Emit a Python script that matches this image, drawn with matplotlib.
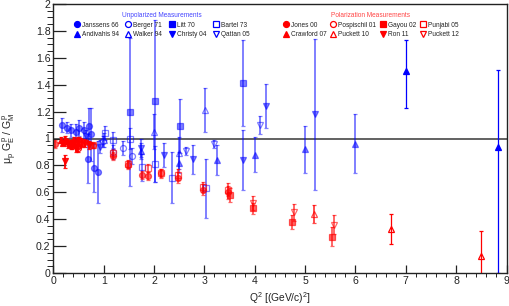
import matplotlib
matplotlib.use('Agg')
import matplotlib.pyplot as plt
from matplotlib.lines import Line2D
from matplotlib.ticker import MultipleLocator

plt.rcParams['font.family'] = ['Liberation Sans', 'DejaVu Sans']
plt.rcParams['mathtext.fontset'] = 'custom'
plt.rcParams['mathtext.rm'] = 'Liberation Sans'
plt.rcParams['mathtext.it'] = 'Liberation Sans'

# ---- unpolarized (Rosenbluth) data ----
janssens_q2 = [0.18, 0.28, 0.35, 0.45, 0.52, 0.60, 0.70, 0.75, 0.68, 0.80, 0.88]
janssens_r = [1.10, 1.08, 1.06, 1.05, 1.08, 1.06, 1.09, 1.03, 0.85, 0.78, 0.75]
janssens_err = [0.05, 0.04, 0.05, 0.06, 0.06, 0.06, 0.14, 0.20, 0.18, 0.18, 0.23]

berger_q2 = [0.99, 1.19, 1.38, 1.57]
berger_r = [0.98, 0.90, 0.93, 0.87]
berger_err = [0.04, 0.05, 0.05, 0.06]

litt_q2 = [1.52, 2.02, 2.52, 3.77]
litt_r = [1.20, 1.28, 1.09, 1.41]
litt_err = [0.55, 0.60, 0.20, 0.32]

bartel_q2 = [1.03, 1.19, 1.52, 1.76, 2.02, 2.35, 3.04]
bartel_r = [1.04, 0.99, 1.00, 0.785, 0.81, 0.71, 0.63]
bartel_err = [0.05, 0.06, 0.08, 0.10, 0.135, 0.19, 0.22]

andivahis_q2 = [1.75, 2.50, 3.25, 4.00, 5.00, 6.00, 7.00, 8.83]
andivahis_r = [0.91, 0.82, 0.84, 0.88, 0.92, 0.96, 1.50, 0.94]
andivahis_lo = [0.06, 0.08, 0.11, 0.13, 0.175, 0.22, 0.27, 0.94]
andivahis_hi = [0.06, 0.08, 0.11, 0.13, 0.175, 0.22, 0.23, 0.57]

walker_q2 = [1.00, 2.00, 2.50, 3.01]
walker_r = [0.99, 1.05, 0.89, 1.21]
walker_err = [0.05, 0.13, 0.12, 0.165]

christy_q2 = [0.65, 0.93, 1.75, 2.20, 2.77, 3.77, 4.22, 5.20]
christy_r = [1.02, 0.94, 0.93, 0.88, 0.845, 0.84, 1.24, 1.18]
christy_err = [0.04, 0.05, 0.07, 0.09, 0.11, 0.22, 0.165, 0.56]

qattan_q2 = [2.64, 3.20, 4.10]
qattan_r = [0.91, 0.96, 1.10]
qattan_err = [0.03, 0.03, 0.07]

# ---- polarization transfer data ----
jones_q2 = [0.04, 0.49, 0.79, 1.18, 1.48, 1.77, 1.88, 2.13, 2.47, 2.97, 3.47]
jones_r = [0.96, 0.99, 0.95, 0.87, 0.80, 0.73, 0.72, 0.74, 0.71, 0.62, 0.60]
jones_err = [0.03, 0.02, 0.02, 0.03, 0.03, 0.03, 0.03, 0.03, 0.04, 0.04, 0.05]

pospischil_q2 = [0.37, 0.44, 0.50]
pospischil_r = [0.95, 0.96, 0.93]
pospischil_err = [0.03, 0.03, 0.03]

gayou_q2 = [3.50, 3.97, 4.75, 5.54]
gayou_r = [0.58, 0.48, 0.38, 0.27]
gayou_err = [0.05, 0.04, 0.05, 0.07]

punjabi_q2 = [0.79, 1.18, 1.48, 1.88, 2.13, 2.47, 2.97, 3.47]
punjabi_r = [0.95, 0.89, 0.81, 0.78, 0.745, 0.73, 0.64, 0.62]
punjabi_err = [0.02, 0.03, 0.03, 0.03, 0.03, 0.04, 0.04, 0.05]

crawford_q2 = [0.16, 0.19, 0.23, 0.28, 0.35, 0.42, 0.50, 0.57]
crawford_r = [0.99, 0.97, 1.00, 0.98, 0.96, 0.98, 0.95, 0.97]
crawford_err = [0.02, 0.02, 0.02, 0.02, 0.03, 0.03, 0.03, 0.03]

puckett10_q2 = [5.17, 6.70, 8.49]
puckett10_r = [0.44, 0.325, 0.13]
puckett10_err = [0.065, 0.11, 0.185]

ron_q2 = [0.23, 0.30, 0.35, 0.40, 0.45, 0.52, 0.62, 0.70]
ron_r = [0.83, 0.96, 0.95, 0.97, 0.93, 0.98, 0.97, 0.95]
ron_err = [0.05, 0.03, 0.03, 0.03, 0.03, 0.03, 0.03, 0.03]

puckett12_q2 = [3.97, 4.78, 5.57]
puckett12_r = [0.52, 0.45, 0.36]
puckett12_err = [0.05, 0.06, 0.07]

BLUE = '#0000ff'
RED = '#ff0000'


def draw(ax, q2, r, err, marker, color, filled, alpha=0.5, lw=1.4):
    ax.errorbar(q2, r, yerr=err, fmt=marker, color=color,
                mfc=color if filled else 'none', mec=color, ms=4.3, mew=0.9,
                elinewidth=lw, capsize=1.5, capthick=0.8, alpha=alpha)


fig = plt.figure(figsize=(5.09, 3.06), dpi=100)
ax = fig.add_axes([53.3/509, 1-273/306, (506.5-53.3)/509, (273-4)/306])

ax.axhline(1.0, color='#555555', lw=1.3, zorder=1)

# unpolarized
draw(ax, janssens_q2, janssens_r, janssens_err, 'o', BLUE, True)
draw(ax, berger_q2, berger_r, berger_err, 'o', BLUE, False)
draw(ax, litt_q2, litt_r, litt_err, 's', BLUE, True)
draw(ax, bartel_q2, bartel_r, bartel_err, 's', BLUE, False)
draw(ax, andivahis_q2[:6], andivahis_r[:6], [andivahis_lo[:6], andivahis_hi[:6]], '^', BLUE, True)
draw(ax, andivahis_q2[6:], andivahis_r[6:], [andivahis_lo[6:], andivahis_hi[6:]], '^', BLUE, True, alpha=1.0, lw=0.9)
draw(ax, walker_q2, walker_r, walker_err, '^', BLUE, False)
draw(ax, christy_q2, christy_r, christy_err, 'v', BLUE, True)
draw(ax, qattan_q2, qattan_r, qattan_err, 'v', BLUE, False)

# polarization
draw(ax, jones_q2, jones_r, jones_err, 'o', RED, True, alpha=0.6)
draw(ax, pospischil_q2, pospischil_r, pospischil_err, 'o', RED, False, alpha=0.9)
draw(ax, gayou_q2, gayou_r, gayou_err, 's', RED, True, alpha=0.6)
draw(ax, punjabi_q2, punjabi_r, punjabi_err, 's', RED, False, alpha=0.6)
draw(ax, crawford_q2, crawford_r, crawford_err, '^', RED, True, alpha=0.9)
draw(ax, puckett10_q2[:1], puckett10_r[:1], puckett10_err[:1], '^', RED, False, alpha=0.7)
draw(ax, puckett10_q2[1:], puckett10_r[1:], puckett10_err[1:], '^', RED, False, alpha=1.0, lw=0.9)
draw(ax, ron_q2, ron_r, ron_err, 'v', RED, True, alpha=0.9)
draw(ax, puckett12_q2, puckett12_r, puckett12_err, 'v', RED, False, alpha=0.6)

ax.set_xlim(0, 9)
ax.set_ylim(0, 2)
ax.xaxis.set_major_locator(MultipleLocator(1))
ax.xaxis.set_minor_locator(MultipleLocator(0.2))
ax.yaxis.set_major_locator(MultipleLocator(0.2))
ax.yaxis.set_minor_locator(MultipleLocator(0.05))
ax.set_yticks([0, 0.2, 0.4, 0.6, 0.8, 1, 1.2, 1.4, 1.6, 1.8, 2])
ax.set_yticklabels(['0', '0.2', '0.4', '0.6', '0.8', '1', '1.2', '1.4', '1.6', '1.8', '2'])
ax.tick_params(axis='both', direction='in', labelsize=7.6, colors='#222222')
ax.tick_params(axis='y', which='major', length=9, width=0.9, pad=2)
ax.tick_params(axis='y', which='minor', length=4.5, width=0.6)
ax.tick_params(axis='x', which='major', length=5.5, width=0.9, pad=2.5)
ax.tick_params(axis='x', which='minor', length=2.8, width=0.6)
for s in ax.spines.values():
    s.set_linewidth(1.0)
    s.set_color('#222222')

ax.set_xlabel(r'Q$^{2}$ [(GeV/c)$^{2}$]', fontsize=7.4, color='#222222')
ax.xaxis.set_label_coords(0.5, -0.065)
ax.xaxis.label.set_va('top')
ax.set_ylabel(r'$\mu_{p}\ G_{E}^{p}\ /\ G_{M}^{p}$', fontsize=7.6, color='#222222')
ax.yaxis.set_label_coords(-0.078, 0.5)


def handle(marker, color, filled):
    return Line2D([], [], marker=marker, linestyle='none', color=color,
                  mfc=color if filled else 'none', mec=color, ms=4.3, mew=0.9)


unpol_handles = [handle('o', BLUE, True), handle('^', BLUE, True),
                 handle('o', BLUE, False), handle('^', BLUE, False),
                 handle('s', BLUE, True), handle('v', BLUE, True),
                 handle('s', BLUE, False), handle('v', BLUE, False)]
unpol_labels = ['Janssens 66', 'Andivahis 94', 'Berger 71', 'Walker 94',
                'Litt 70', 'Christy 04', 'Bartel 73', 'Qattan 05']
pol_handles = [handle('o', RED, True), handle('^', RED, True),
               handle('o', RED, False), handle('^', RED, False),
               handle('s', RED, True), handle('v', RED, True),
               handle('s', RED, False), handle('v', RED, False)]
pol_labels = ['Jones 00', 'Crawford 07', 'Pospischil 01', 'Puckett 10',
              'Gayou 02', 'Ron 11', 'Punjabi 05', 'Puckett 12']

leg_kw = dict(ncol=4, frameon=False, fontsize=4.7, title_fontsize=4.7,
              handlelength=0.9, handletextpad=0.35,
              labelspacing=0.45, borderpad=0.2, loc='upper left')
leg1 = fig.legend(unpol_handles, unpol_labels, title='Unpolarized Measurements',
                  bbox_to_anchor=(69/509, 1-7/306), columnspacing=1.0, **leg_kw)
leg1.get_title().set_color('#4444ff')
leg2 = fig.legend(pol_handles, pol_labels, title='Polarization Measurements',
                  bbox_to_anchor=(278/509, 1-7/306), columnspacing=0.55, **leg_kw)
leg2.get_title().set_color('#ff4444')
for leg in (leg1, leg2):
    for t in leg.get_texts():
        t.set_color('#222222')

fig.savefig('out.png', dpi=100)
